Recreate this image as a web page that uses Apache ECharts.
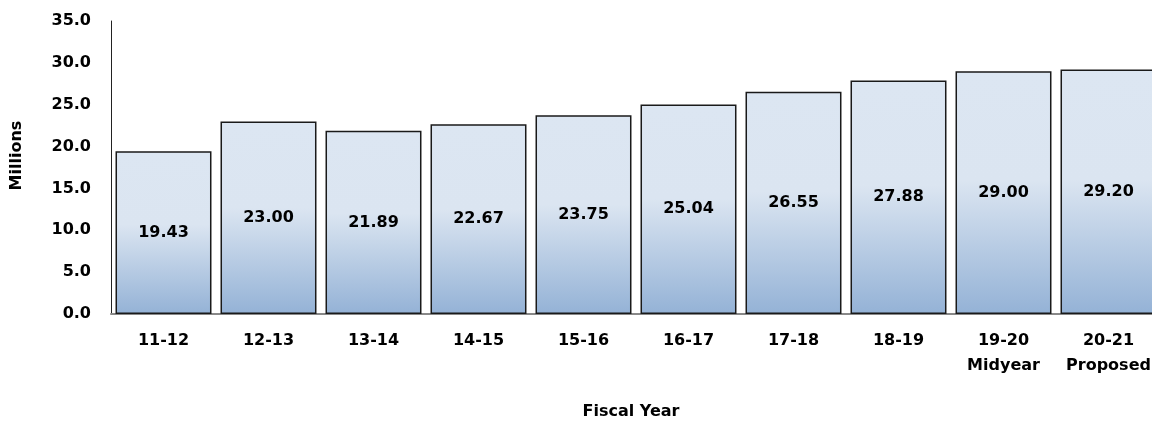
<!DOCTYPE html>
<html>
<head>
<meta charset="utf-8">
<script src="https://cdn.jsdelivr.net/npm/echarts@6/dist/echarts.min.js"></script>
<style>
  html, body { margin: 0; padding: 0; background: #fff; overflow: hidden; }
  /* plot runs a little past the right edge, the last bar is cut off */
  #chart { width: 1161px; height: 425px; }
</style>
</head>
<body>
<div id="chart"></div>
<script>
// fiscal years and revenue (millions)
let years = ["11-12", "12-13", "13-14", "14-15", "15-16", "16-17", "17-18", "18-19", "19-20\nMidyear", "20-21\nProposed"];
let values = [19.43, 23.00, 21.89, 22.67, 23.75, 25.04, 26.55, 27.88, 29.00, 29.20];

let font = "DejaVu Sans";

let chart = echarts.init(document.getElementById("chart"));

let option = {
    animation: false,
    textStyle: {
        fontFamily: font
    },
    grid: {
        left: 111,
        right: 0,
        top: 21,
        bottom: 106,
        containLabel: false
    },
    xAxis: {
        type: "category",
        data: years,
        name: "Fiscal Year",
        nameLocation: "middle",
        nameGap: 90,
        nameTextStyle: {
            color: "#000",
            fontWeight: "bold",
            fontSize: 16,
            fontFamily: font,
            padding: [0, 10, 0, 0]
        },
        axisLine: {
            lineStyle: { color: "#888", width: 2 }
        },
        axisTick: { show: false },
        axisLabel: {
            interval: 0,
            color: "#000",
            fontWeight: "bold",
            fontSize: 16,
            fontFamily: font,
            margin: 14,
            lineHeight: 25
        }
    },
    yAxis: {
        type: "value",
        min: 0,
        max: 35,
        interval: 5,
        name: "Millions",
        nameLocation: "middle",
        nameGap: 86,
        nameTextStyle: {
            color: "#000",
            fontWeight: "bold",
            fontSize: 16,
            fontFamily: font,
            padding: [0, 0, 0, 24]
        },
        axisLine: {
            show: true,
            lineStyle: { color: "#222", width: 1 }
        },
        axisTick: { show: false },
        splitLine: { show: false },
        axisLabel: {
            color: "#000",
            fontWeight: "bold",
            fontSize: 16,
            fontFamily: font,
            margin: 20,
            formatter: function (v) { return v.toFixed(1); }
        }
    },
    series: [
        {
            type: "bar",
            data: values,
            barCategoryGap: "8.6%",
            itemStyle: {
                borderColor: "#1a1a1a",
                borderWidth: 1.5,
                color: new echarts.graphic.LinearGradient(0, 0, 0, 1, [
                    { offset: 0, color: "#dce6f2" },
                    { offset: 0.45, color: "#dbe5f1" },
                    { offset: 1, color: "#94b2d6" }
                ])
            },
            label: {
                show: true,
                position: "inside",
                color: "#000",
                fontWeight: "bold",
                fontSize: 16,
                fontFamily: font,
                formatter: function (p) { return p.value.toFixed(2); }
            }
        }
    ]
};

chart.setOption(option);
</script>
</body>
</html>
